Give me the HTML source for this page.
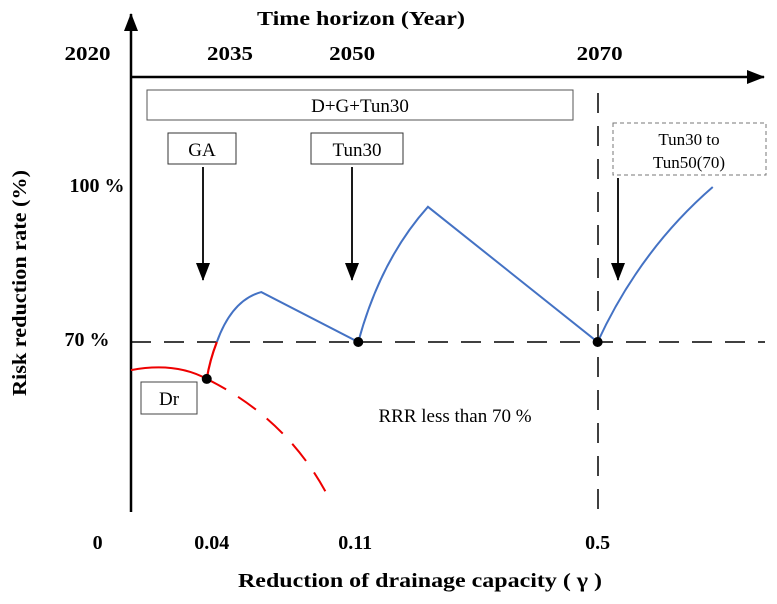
<!DOCTYPE html>
<html><head><meta charset="utf-8"><style>
body{margin:0;background:#fff}
svg{display:block;font-family:"Liberation Serif",serif}
.b{font-weight:bold;font-size:20px}
</style></head><body>
<svg width="777" height="604" viewBox="0 0 777 604">
<defs><marker id="ab" markerWidth="18" markerHeight="14" refX="17" refY="7" orient="auto" markerUnits="userSpaceOnUse"><path d="M0,0 L18,7 L0,14z" fill="#000"/></marker></defs>
<g id="axes">
<line x1="131" y1="512" x2="131" y2="14" stroke="#000" stroke-width="2.5" marker-end="url(#ab)"/>
<line x1="131" y1="77" x2="764" y2="77" stroke="#000" stroke-width="2.5" marker-end="url(#ab)"/>
<line x1="131" y1="342" x2="765" y2="342" stroke="#000" stroke-width="1.5" stroke-dasharray="20,13"/>
<line x1="598" y1="93" x2="598" y2="512" stroke="#000" stroke-width="1.5" stroke-dasharray="20,13"/>
</g>
<text x="361" y="25" text-anchor="middle" class="b" textLength="208" lengthAdjust="spacingAndGlyphs">Time horizon (Year)</text>
<g id="years"></g><g id="xticks"></g>
<text x="97" y="192" text-anchor="middle" class="b">100 %</text>
<text x="87" y="346" text-anchor="middle" class="b">70 %</text>
<text transform="translate(26,283) rotate(-90)" text-anchor="middle" class="b" textLength="226" lengthAdjust="spacingAndGlyphs">Risk reduction rate (%)</text>
<text x="420" y="587" text-anchor="middle" class="b" textLength="364" lengthAdjust="spacingAndGlyphs">Reduction of drainage capacity ( γ )</text>
<rect x="147" y="90" width="426" height="30" fill="none" stroke="#555"/>
<text x="360" y="112" text-anchor="middle" font-size="19">D+G+Tun30</text>
<rect x="168" y="133" width="68" height="31" fill="none" stroke="#333"/>
<text x="202" y="156" text-anchor="middle" font-size="19">GA</text>
<rect x="311" y="133" width="92" height="31" fill="none" stroke="#333"/>
<text x="357" y="156" text-anchor="middle" font-size="19">Tun30</text>
<rect x="613" y="123" width="153" height="52" fill="none" stroke="#777" stroke-dasharray="4,3"/>
<text x="689" y="145" text-anchor="middle" font-size="17">Tun30 to</text>
<text x="689" y="168" text-anchor="middle" font-size="17">Tun50(70)</text>
<line x1="203" y1="167" x2="203" y2="280" stroke="#000" stroke-width="1.8" marker-end="url(#ab)"/>
<line x1="352" y1="167" x2="352" y2="280" stroke="#000" stroke-width="1.8" marker-end="url(#ab)"/>
<line x1="618" y1="178" x2="618" y2="280" stroke="#000" stroke-width="1.8" marker-end="url(#ab)"/>
<rect x="141" y="382" width="56" height="32" fill="#fff" stroke="#444"/>
<text x="169" y="405" text-anchor="middle" font-size="19">Dr</text>
<text x="455" y="422" text-anchor="middle" font-size="19">RRR less than 70 %</text>
<g id="plot"></g>
</svg>
<script>
const years=["2020","2035","2050","2070"];
const yearPos=[-4.3,9.8,21.9,46.4];
const gammaTicks=["0","0.04","0.11","0.5"];
const gammaPos=[-3.3,8,22.2,46.2];
// curve nodes: [start, control, end] as [position, RRR%]
const blue1=[[8.5,70],[10,78.1],[12.9,79.6]];
const blue2=[[22.5,70],[24.7,85.8],[29.4,96]];
const blue3=[[46.2,70],[50.4,87.7],[57.6,99.8]];
const red=[[0,64.6],[4.4,66.2],[7.5,62.9]];
const redUp=[[7.5,62.9],[7.8,66.5],[8.5,70]];
const redDash=[[7.5,62.9],[15.7,55],[19.7,39.6]];
const dots=[[7.5,62.9],[22.5,70],[46.2,70]];
const X=v=>131+v*10.1, Y=v=>342-(v-70)*5.2;
const NS="http://www.w3.org/2000/svg",plot=document.getElementById('plot');
function mk(t,a,p){const e=document.createElementNS(NS,t);for(const k in a)e.setAttribute(k,a[k]);(p||plot).appendChild(e);return e;}
const yg=document.getElementById('years');
years.forEach((s,i)=>{const t=mk('text',{x:X(yearPos[i]),y:60,'text-anchor':'middle','class':'b',textLength:46,lengthAdjust:'spacingAndGlyphs'},yg);t.textContent=s;

});
const xg=document.getElementById('xticks');
gammaTicks.forEach((s,i)=>{const t=mk('text',{x:X(gammaPos[i]),y:549,'text-anchor':'middle','class':'b'},xg);t.textContent=s;

});
const P=p=>`${X(p[0])},${Y(p[1])}`;
function q(p){return `M${P(p[0])} Q${P(p[1])} ${P(p[2])}`;}
function qc(p){return `Q${P(p[1])} ${P(p[2])}`;}
const bd=q(blue1)+` L${P(blue2[0])} `+qc(blue2)+` L${P(blue3[0])} `+qc(blue3);
const b=mk('path',{d:bd,fill:'none',stroke:'#4472C4','stroke-width':2});


const r=mk('path',{d:q(red),fill:'none',stroke:'#e00','stroke-width':2});


const ru=mk('path',{d:q(redUp),fill:'none',stroke:'#e00','stroke-width':2.2});


const rd=mk('path',{d:q(redDash),fill:'none',stroke:'#e00','stroke-width':2,'stroke-dasharray':'22,14'});


dots.forEach(d=>{const c=mk('circle',{cx:X(d[0]),cy:Y(d[1]),r:5,fill:'#000'});

});
</script>
</body></html>
